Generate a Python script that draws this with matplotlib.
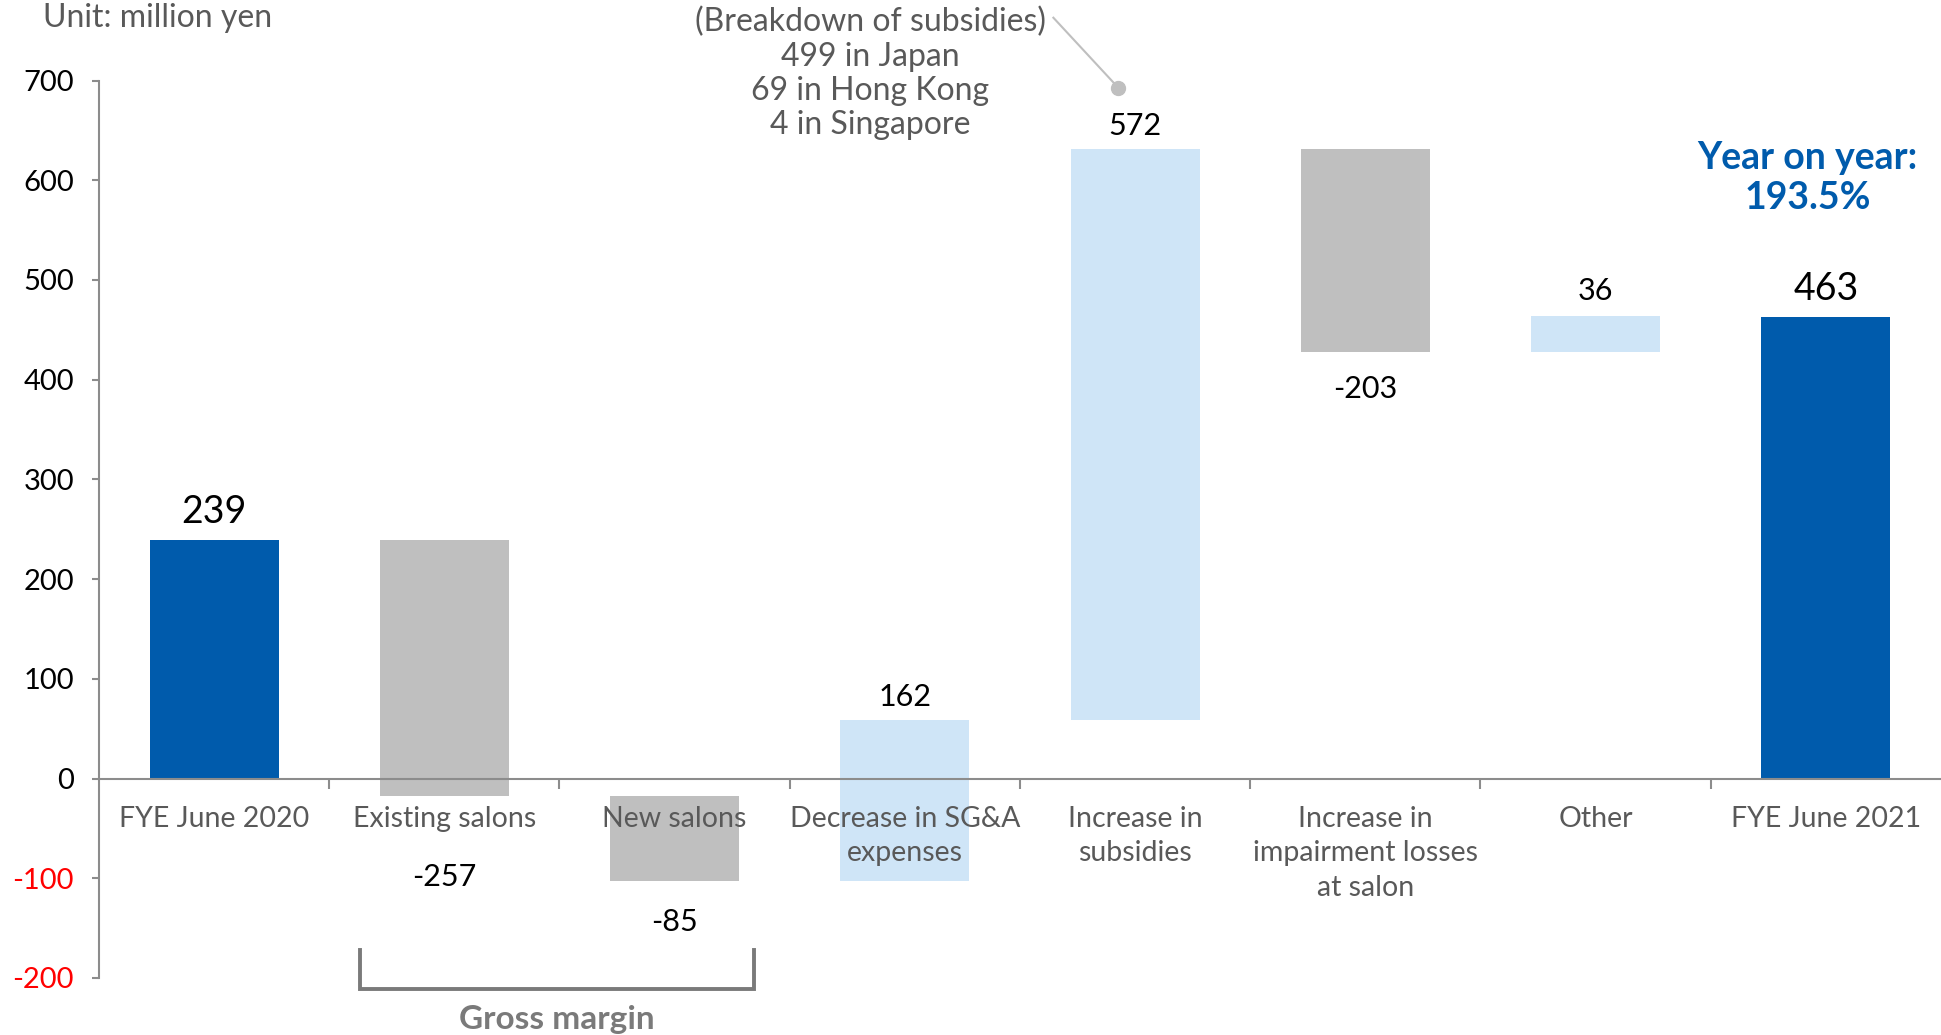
import matplotlib
matplotlib.use("Agg")
import matplotlib.pyplot as plt
import numpy as np

plt.rcParams['font.family'] = ['Lato', 'DejaVu Sans']

# Data (million yen)
categories = ["FYE June 2020", "Existing salons", "New salons",
              "Decrease in SG&A\nexpenses", "Increase in\nsubsidies",
              "Increase in\nimpairment losses\nat salon", "Other", "FYE June 2021"]
start_value = 239
deltas = [-257, -85, 162, 572, -203, 36]
end_value = 463
yticks = [-200, -100, 0, 100, 200, 300, 400, 500, 600, 700]

# Styling
C_TOTAL = "#005BAC"
C_NEG = "#BFBFBF"
C_POS = "#CFE5F7"
C_AXIS = "#8C8C8C"
C_TEXT = "#595959"
# vertical gap (points) between each bar and its value label
label_gap = [7, 48, 19, 6, 7, 17, 8, 7]

fig = plt.figure(figsize=(19.41, 10.35), dpi=100)
ax = fig.add_axes([0.051, 0.0551, 0.949, 0.8671])
ax.set_axisbelow(False)

x = np.arange(len(categories))
width = 0.56

# Waterfall geometry
bottoms, heights, colors = [0], [start_value], [C_TOTAL]
level = start_value
for d in deltas:
    new = level + d
    bottoms.append(min(level, new))
    heights.append(abs(d))
    colors.append(C_POS if d > 0 else C_NEG)
    level = new
bottoms.append(0)
heights.append(end_value)
colors.append(C_TOTAL)

ax.bar(x, heights, bottom=bottoms, width=width, color=colors, zorder=2)

# Value labels
values = [start_value] + deltas + [end_value]
for i, v in enumerate(values):
    total = i in (0, len(values) - 1)
    fs = 27 if total else 22
    if v >= 0:
        ax.annotate(f"{v}", (x[i], bottoms[i] + heights[i]), xytext=(0, label_gap[i]),
                    textcoords="offset points", ha="center", va="bottom",
                    fontsize=fs, color="black")
    else:
        ax.annotate(f"{v}", (x[i], bottoms[i]), xytext=(0, -label_gap[i]),
                    textcoords="offset points", ha="center", va="top",
                    fontsize=fs, color="black")

# Axes
ax.set_xlim(-0.5, len(categories) - 0.5)
ax.set_ylim(-200, 700)
for s in ("top", "right"):
    ax.spines[s].set_visible(False)
ax.spines["bottom"].set_position(("data", 0))
ax.spines["bottom"].set_color(C_AXIS)
ax.spines["bottom"].set_linewidth(1.5)
ax.spines["left"].set_color(C_AXIS)
ax.spines["left"].set_linewidth(1.5)

ax.set_yticks(yticks)
ax.set_yticklabels([str(t) for t in yticks])
ax.tick_params(axis="y", length=5, width=1.5, color=C_AXIS, labelsize=21, pad=13)
for lbl, t in zip(ax.get_yticklabels(), yticks):
    lbl.set_color("#FF0000" if t < 0 else "black")

ax.set_xticks(x[:-1] + 0.5)
ax.set_xticklabels([])
ax.tick_params(axis="x", which="major", length=7, width=1.5, color=C_AXIS, direction="out")
ax.set_xticks(x, minor=True)
ax.set_xticklabels(categories, minor=True)
ax.tick_params(axis="x", which="minor", length=0, labelsize=20.5, pad=19.5, labelcolor=C_TEXT)
for lbl in ax.get_xticklabels(minor=True):
    lbl.set_linespacing(1.42)

# Unit note
fig.text(0.0222, 0.9826, "Unit: million yen", fontsize=23, color=C_TEXT,
         ha="left", va="center")

# Subsidy breakdown callout
ax.text(2.849, 707, "(Breakdown of subsidies)\n499 in Japan\n69 in Hong Kong\n4 in Singapore",
        ha="center", va="center", fontsize=23, color=C_TEXT, linespacing=1.17,
        clip_on=False)
ax.plot([3.645, 3.926], [763, 693], color="#BFBFBF", lw=1.5, clip_on=False, zorder=3)
ax.plot([3.926], [693], "o", color="#BFBFBF", ms=10, clip_on=False, zorder=3)

# Year-on-year note
ax.text(6.92, 602, "Year on year:\n193.5%", ha="center", va="center", fontsize=27,
        fontweight="bold", color=C_TOTAL, linespacing=1.2, clip_on=False)

# Gross margin bracket
ax.plot([0.634, 0.634, 2.345, 2.345], [-171.5, -210.6, -210.6, -171.5],
        color="#7A7A7A", lw=2.8, clip_on=False, solid_joinstyle="miter")
ax.text(1.49, -242, "Gross margin", ha="center", va="center", fontsize=24,
        fontweight="bold", color="#7A7A7A", clip_on=False)

fig.savefig("out.png", dpi=100)
